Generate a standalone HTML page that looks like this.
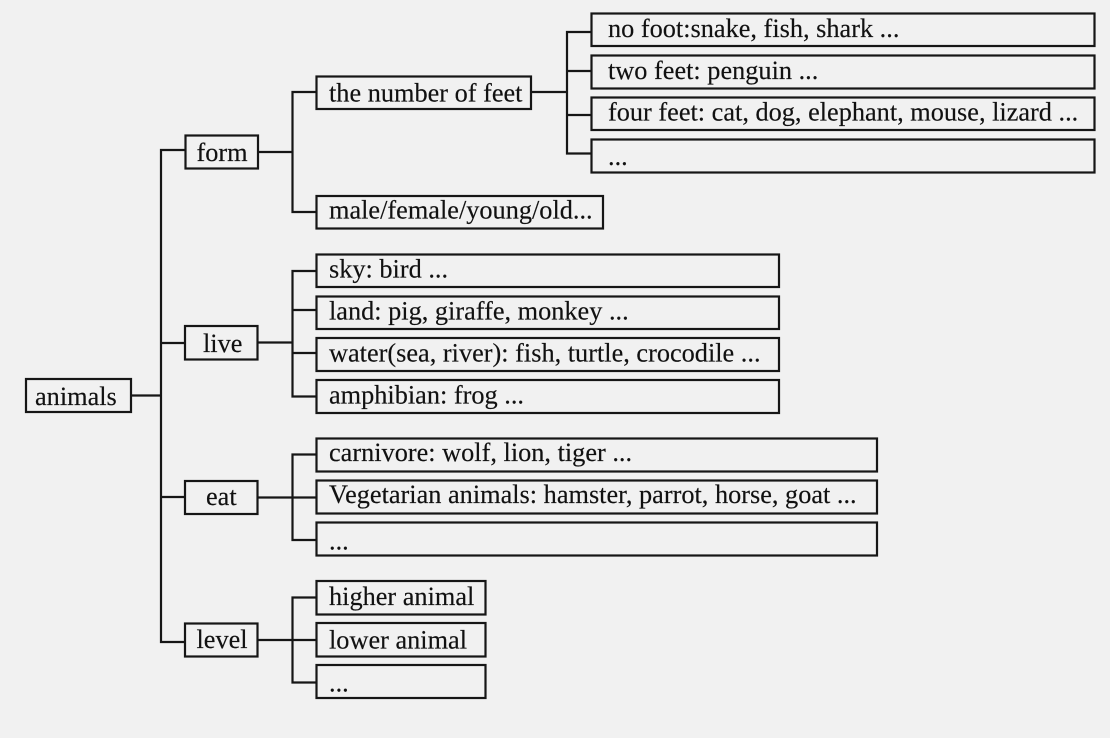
<!DOCTYPE html>
<html><head><meta charset="utf-8"><style>
html,body{margin:0;padding:0;background:#f1f1f1}
svg{display:block}
text{font-family:"Liberation Serif",serif;font-size:26.3px;fill:#111;stroke:#111;stroke-width:.15}
rect{fill:none;stroke:#161616;stroke-width:2.2}
path{fill:none;stroke:#161616;stroke-width:2.2}
</style></head><body>
<svg width="1110" height="738" viewBox="0 0 1110 738" xmlns="http://www.w3.org/2000/svg">
<rect x="0" y="0" width="1110" height="738" style="fill:#f1f1f1;stroke:none"/>
<!-- connectors -->
<path d="M131 395.500H161M185 150H161V642H185M161 343H185M161 497H185"/>
<path d="M258 152H292.500M316 92H292.500V212H316"/>
<path d="M258 342.500H292.500M316 271H292.500V396.500H316M292.500 310H316M292.500 353H316"/>
<path d="M258 497.500H316M316 454.500H292.500V540H316"/>
<path d="M258 640H316M316 597.500H292.500V682.500H316"/>
<path d="M531 92H567M591 32H567V153.500H591M567 71H591M567 115H591"/>
<!-- boxes -->
<rect x="26" y="379" width="105" height="33"/>
<rect x="185.500" y="135.500" width="72.500" height="33"/>
<rect x="185" y="326" width="72.500" height="33.500"/>
<rect x="185" y="481" width="72.500" height="33"/>
<rect x="185" y="623.500" width="72.500" height="33"/>
<rect x="316.500" y="76.500" width="214.500" height="32.500"/>
<rect x="316.500" y="196" width="286.500" height="32.500"/>
<rect x="316.500" y="254.500" width="462.500" height="32.500"/>
<rect x="316.500" y="296.500" width="462.500" height="32.500"/>
<rect x="316.500" y="338" width="462.500" height="33"/>
<rect x="316.500" y="380" width="462.500" height="33"/>
<rect x="316.500" y="438.500" width="560.500" height="33"/>
<rect x="316.500" y="480.500" width="560.500" height="33"/>
<rect x="316.500" y="522.500" width="560.500" height="33"/>
<rect x="316.500" y="581" width="169" height="33.500"/>
<rect x="316.500" y="623" width="169" height="33.500"/>
<rect x="316.500" y="665" width="169" height="33"/>
<rect x="591.500" y="13.500" width="503" height="32.500"/>
<rect x="591.500" y="55.500" width="503" height="33"/>
<rect x="591.500" y="97.500" width="503" height="32.500"/>
<rect x="591.500" y="139.500" width="503" height="33"/>
<!-- labels -->
<text x="35" y="405">animals</text>
<text x="196.500" y="161">form</text>
<text x="203" y="352">live</text>
<text x="206" y="505">eat</text>
<text x="196.500" y="648">level</text>
<text x="329" y="101.500">the number of feet</text>
<text x="329" y="218.500">male/female/young/old...</text>
<text x="329" y="277.500">sky: bird ...</text>
<text x="329" y="319.500">land: pig, giraffe, monkey ...</text>
<text x="329" y="361.500">water(sea, river): fish, turtle, crocodile ...</text>
<text x="329" y="403.500">amphibian: frog ...</text>
<text x="329" y="461">carnivore: wolf, lion, tiger ...</text>
<text x="329" y="503">Vegetarian animals: hamster, parrot, horse, goat ...</text>
<text x="329" y="549.500">...</text>
<text x="329" y="605">higher animal</text>
<text x="329" y="648.500">lower animal</text>
<text x="329" y="691.500">...</text>
<text x="608" y="37">no foot:snake, fish, shark ...</text>
<text x="608" y="79">two feet: penguin ...</text>
<text x="608" y="120.500">four feet: cat, dog, elephant, mouse, lizard ...</text>
<text x="608" y="165">...</text>
</svg>
</body></html>
